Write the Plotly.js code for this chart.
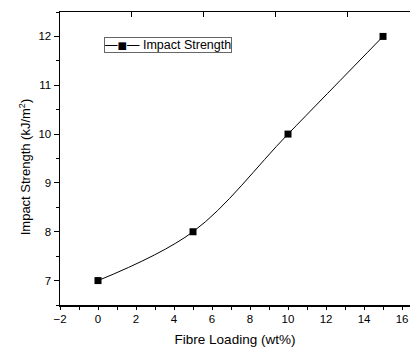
<!DOCTYPE html>
<html>
<head>
<meta charset="utf-8">
<script src="https://cdn.plot.ly/plotly-3.0.1.min.js"></script>
<style>html,body{margin:0;padding:0;background:#fff;}#chart{width:411px;height:347px;}</style>
</head>
<body>
<div id="chart"></div>
<script>
var fibreLoading = [0, 5, 10, 15];
var impactStrength = [7, 8, 10, 12];
var seriesName = "Impact Strength";
var xTitle = "Fibre Loading (wt%)";
var yTitle = "Impact Strength (kJ/m<sup>2</sup>)";
var xTickVals = [-2, 0, 2, 4, 6, 8, 10, 12, 14, 16];
var yTickVals = [7, 8, 9, 10, 11, 12];
var topTickVals = [1.78, 5.56, 9.34, 13.12];

var font = "Liberation Sans, Arial, sans-serif";

var trace = {
  x: fibreLoading, y: impactStrength, name: seriesName,
  type: "scatter", mode: "lines+markers", showlegend: false,
  line: {shape: "spline", smoothing: 1, color: "#000", width: 1},
  marker: {symbol: "square", size: 7, color: "#000"}
};
var dummyTop = {x: [fibreLoading[0]], y: [impactStrength[0]], xaxis: "x2", yaxis: "y", mode: "markers",
  marker: {opacity: 0}, showlegend: false, hoverinfo: "skip"};

var layout = {
  width: 411, height: 347,
  margin: {l: 60, r: 1, t: 12, b: 42},
  paper_bgcolor: "#fff", plot_bgcolor: "#fff",
  font: {family: font, color: "#000", size: 11},
  showlegend: false,
  annotations: [{
    xref: "paper", yref: "paper", x: 0.126, y: 0.913, xanchor: "left", yanchor: "top",
    text: "\u2014<span style='font-family:DejaVu Sans;font-size:10px'>\u25A0</span>\u2014 " + seriesName,
    showarrow: false, bordercolor: "#666", borderwidth: 1, borderpad: 0, bgcolor: "#fff",
    font: {family: font, size: 12.5, color: "#000"}
  }, {
    xref: "paper", yref: "paper", x: -0.1, y: 0.47, xanchor: "center", yanchor: "middle",
    textangle: -90, text: yTitle, showarrow: false,
    font: {family: font, size: 13, color: "#000"}
  }],
  xaxis: {range: [-2, 16.42], tickvals: xTickVals, ticks: "outside", ticklen: 3, tickwidth: 1,
    tickcolor: "#000", showline: true, linecolor: "#000", linewidth: 1.5, zeroline: false, showgrid: false,
    minor: {dtick: 1, ticks: "outside", ticklen: 3, tickcolor: "#000"},
    tickfont: {size: 11.5}, title: {text: xTitle, font: {size: 13.5}, standoff: 12}},
  xaxis2: {range: [-2, 16.42], overlaying: "x", side: "top", tickvals: topTickVals, showticklabels: false,
    ticks: "inside", ticklen: 5, tickwidth: 1, tickcolor: "#000", showline: true, linecolor: "#000", linewidth: 1.5,
    zeroline: false, showgrid: false},
  yaxis: {range: [6.5, 12.5], tickvals: yTickVals, ticks: "outside", ticklen: 5, tickwidth: 1,
    tickcolor: "#000", showline: true, linecolor: "#000", linewidth: 1.5, zeroline: false, showgrid: false,
    minor: {dtick: 0.5, ticks: "outside", ticklen: 3, tickcolor: "#000"},
    tickfont: {size: 11.5}}
};

Plotly.newPlot("chart", [trace, dummyTop], layout, {displayModeBar: false, staticPlot: true});
</script>
</body>
</html>
